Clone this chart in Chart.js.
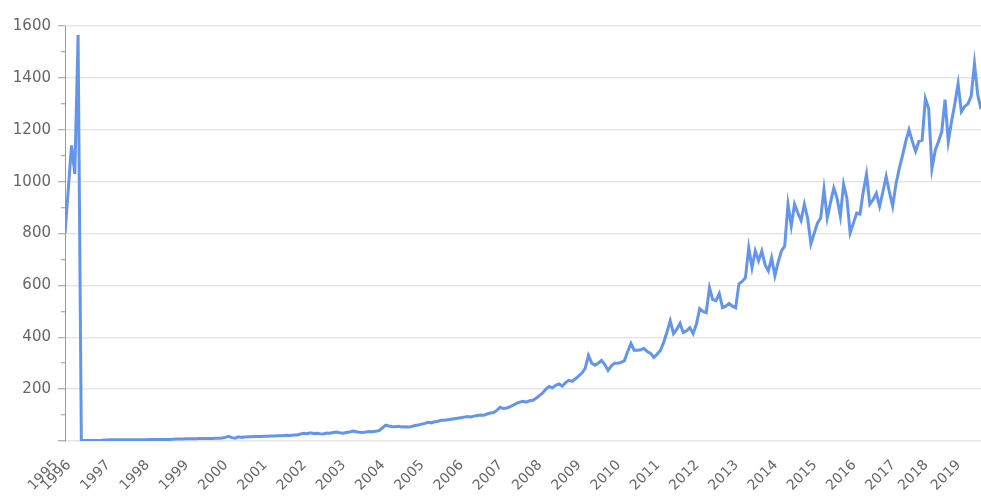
<!DOCTYPE html>
<html>
<head>
<meta charset="utf-8">
<script src="https://cdn.jsdelivr.net/npm/chart.js@4.4.1/dist/chart.umd.min.js"></script>
<style>
html,body{margin:0;padding:0;background:#ffffff;}
#wrap{width:981px;height:497px;position:relative;}
</style>
</head>
<body>
<div id="wrap"><canvas id="c"></canvas></div>
<script>
// Year categories (first point of each year carries the year label)
const years = [1995,1996,1997,1998,1999,2000,2001,2002,2003,2004,2005,2006,2007,2008,2009,2010,2011,2012,2013,2014,2015,2016,2017,2018,2019];

// Series values, one small array per year (monthly-ish points)
const v1995 = [null,null,null,null];
const v1996 = [800,970,1140,1030,1565,2,2,2,2,2,2,2];
const v1997 = [4,4,5,5,5,5,5,5,5,5,5,5];
const v1998 = [5,5,6,6,6,6,6,6,6,7,8,8];
const v1999 = [8,9,9,9,9,10,10,10,10,10,11,11];
const v2000 = [12,14,18,13,11,16,14,15,16,16,17,17];
const v2001 = [17,18,18,19,19,20,20,21,22,21,23,23];
const v2002 = [27,30,28,32,29,30,28,27,31,30,33,35];
const v2003 = [32,30,33,35,38,36,34,33,35,37,36,38];
const v2004 = [40,50,61,58,56,55,57,54,55,54,56,60];
const v2005 = [62,65,68,72,70,74,76,80,80,82,84,86];
const v2006 = [88,90,92,94,93,96,98,100,99,104,108,110];
const v2007 = [118,130,125,127,132,138,145,150,153,150,155,157];
const v2008 = [165,175,185,200,210,205,215,220,212,225,234,230];
const v2009 = [240,250,262,280,330,300,292,300,311,295,272,290];
const v2010 = [300,300,303,310,345,376,350,350,352,357,345,338];
const v2011 = [322,335,349,380,420,464,414,430,453,418,425,437];
const v2012 = [414,450,510,500,495,591,545,541,568,514,520,530];
const v2013 = [520,514,606,615,630,745,668,733,695,733,680,656];
const v2014 = [706,637,690,733,752,913,829,913,880,850,913,860];
const v2015 = [760,800,840,860,970,860,920,975,936,867,990,936];
const v2016 = [802,840,879,875,960,1028,913,930,955,905,960,1020];
const v2017 = [960,905,990,1050,1100,1155,1200,1155,1117,1155];
const v2018 = [1160,1320,1282,1050,1120,1155,1193,1316,1155,1232];
const v2019 = [1300,1378,1270,1290,1300,1330,1455,1335,1280];

// Y tick labels shown
const yTickLabels = ['200','400','600','800','1000','1200','1400','1600'];

const yearly = [v1995,v1996,v1997,v1998,v1999,v2000,v2001,v2002,v2003,v2004,v2005,v2006,v2007,v2008,v2009,v2010,v2011,v2012,v2013,v2014,v2015,v2016,v2017,v2018,v2019];

const yearStart = [];
const points = [];
let idx = 0;
yearly.forEach((arr) => {
  yearStart.push(idx);
  arr.forEach((v) => {
    if (v !== null) points.push({x: idx, y: v});
    idx++;
  });
});
const xMin = points[0].x;
const xMax = points[points.length - 1].x;

Chart.defaults.font.family = "'DejaVu Sans', sans-serif";
Chart.defaults.color = '#666';

new Chart(document.getElementById('c'), {
  type: 'line',
  data: {
    datasets: [{
      data: points,
      borderColor: 'rgb(100,149,237)',
      borderWidth: 3,
      pointRadius: 0,
      tension: 0,
      fill: false,
      spanGaps: true
    }]
  },
  options: {
    responsive: true,
    maintainAspectRatio: false,
    animation: false,
    devicePixelRatio: 1,
    layout: { padding: { top: 26, left: 0, right: 0, bottom: 0 } },
    plugins: { legend: { display: false }, tooltip: { enabled: false } },
    scales: {
      x: {
        type: 'linear',
        min: xMin,
        max: xMax,
        afterBuildTicks: (scale) => { scale.ticks = yearStart.map(v => ({ value: v })); },
        afterFit: (scale) => { scale.height = 56; },
        grid: {
          display: true,
          drawOnChartArea: false,
          drawTicks: true,
          tickLength: 12,
          tickColor: 'rgba(0,0,0,0)',
          color: 'rgba(0,0,0,0)'
        },
        border: { display: false },
        ticks: {
          autoSkip: false,
          minRotation: 45,
          maxRotation: 45,
          padding: 4,
          labelOffset: 4,
          color: '#666',
          font: { size: 14 },
          callback: (value, index) => String(years[index])
        }
      },
      y: {
        min: 0,
        max: 1600,
        afterFit: (scale) => { scale.width = 65; },
        border: { display: true, color: '#9a9a9a', width: 1 },
        grid: {
          color: (ctx) => (ctx.tick && ctx.tick.value % 200 === 0) ? '#e6e6e6' : 'rgba(0,0,0,0)',
          lineWidth: 1.5,
          tickLength: 7,
          tickColor: '#9a9a9a',
          tickWidth: 1,
          tickBorderDash: (ctx) => (ctx.tick && ctx.tick.value % 200 !== 0) ? [4, 100] : [],
          tickBorderDashOffset: (ctx) => (ctx.tick && ctx.tick.value % 200 !== 0) ? -3 : 0
        },
        ticks: {
          stepSize: 100,
          autoSkip: false,
          padding: 7,
          color: '#666',
          font: { size: 15 },
          callback: (value) => (value % 200 === 0 && value !== 0) ? yTickLabels[value / 200 - 1] : ''
        }
      }
    }
  }
});
</script>
</body>
</html>
